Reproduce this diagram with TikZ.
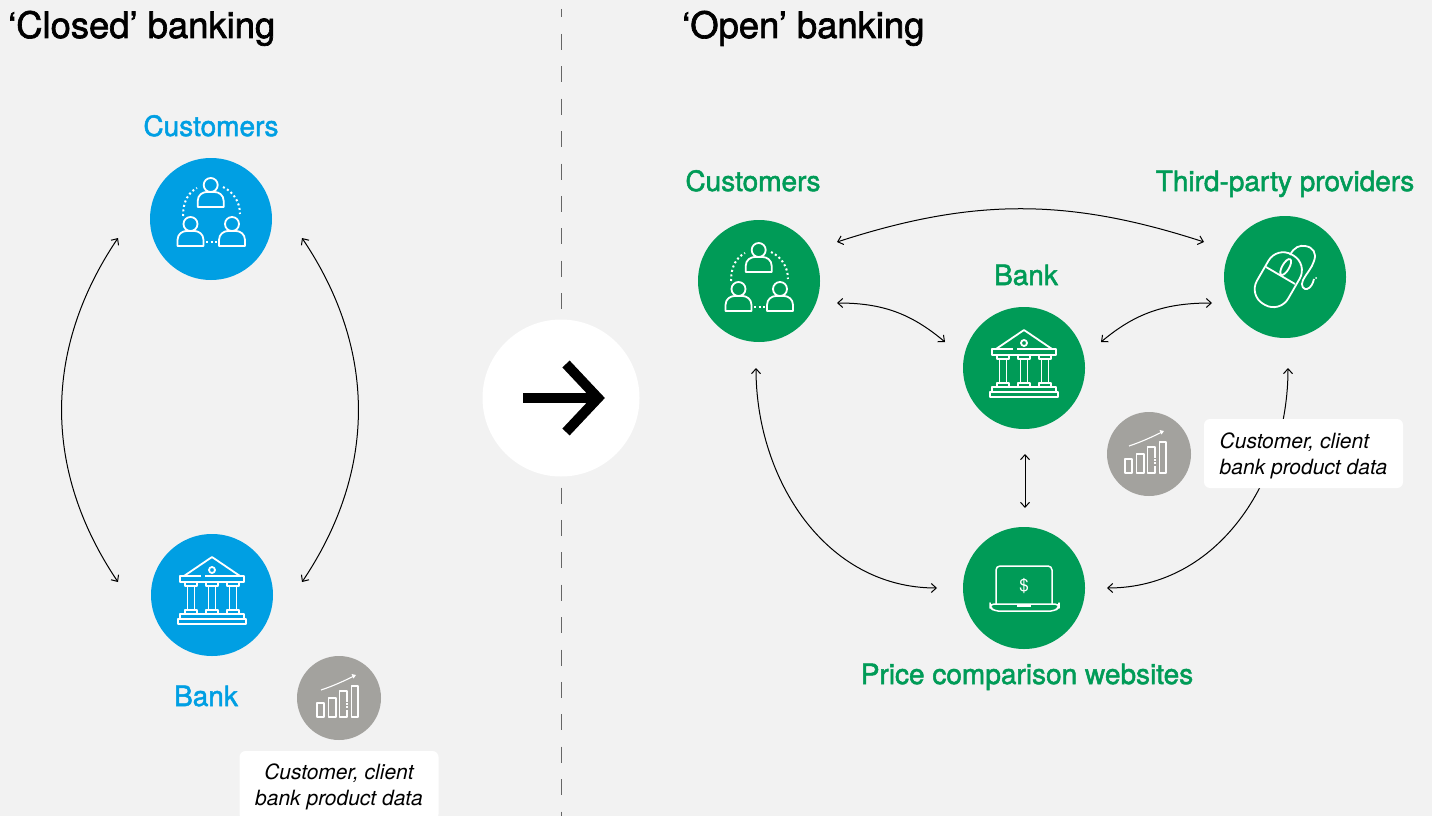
\documentclass[tikz,border=0pt]{standalone}
\usepackage{fontspec}
\usetikzlibrary{arrows.meta}
\setmainfont{TeX Gyre Heros}
\newfontfamily\medfont[FakeBold=1.8]{TeX Gyre Heros}
\definecolor{bgcol}{HTML}{F2F2F2}
\definecolor{bluecol}{HTML}{009FE3}
\definecolor{greencol}{HTML}{009B57}
\definecolor{greycol}{HTML}{A3A29E}
\tikzset{
	disc/.style={circle,minimum size=122pt,inner sep=0pt},
	bluedisc/.style={disc,fill=bluecol},
	greendisc/.style={disc,fill=greencol},
	greydisc/.style={circle,minimum size=84pt,inner sep=0pt,fill=greycol},
	heading/.style={anchor=west,inner sep=0pt,text height=24pt,text depth=0pt,font=\medfont\fontsize{36.4}{36.4}\selectfont},
	tag/.style={inner sep=0pt,text height=20pt,text depth=0pt,font=\medfont\fontsize{28}{28}\selectfont},
	datatag/.style={fill=white,rounded corners=6pt,minimum width=199pt,minimum height=69pt,inner sep=0pt,align=center,font=\itshape\fontsize{21}{26}\selectfont},
	link/.style={{Straight Barb[length=5pt,width=9pt]}-{Straight Barb[length=5pt,width=9pt]},line width=1pt,black},
	iconline/.style={draw=white,line width=1.8pt,line join=round},
	peopleicon/.pic={
		\foreach \hx/\hy in {-0.3/-34,-20.5/5,21/5}{
			\draw[iconline,shift={(\hx,\hy)}] (0,0) circle (7)
				(-13,22) -- (-13,16) .. controls (-13,10) and (-8,7) .. (-4,7) -- (4,7) .. controls (8,7) and (13,10) .. (13,16) -- (13,22) -- cycle;
		}
		\draw[draw=white,line width=2pt,dash pattern=on 2pt off 2.6pt] (-28,-3) .. controls (-28,-18) and (-22,-27) .. (-14,-31);
		\draw[draw=white,line width=2pt,dash pattern=on 2pt off 2.6pt] (12,-32) .. controls (21,-28) and (29,-18) .. (29,-5);
		\draw[draw=white,line width=2pt,dash pattern=on 2pt off 2.6pt] (-5,23) -- (6,23);
	},
	bankicon/.pic={
		\draw[iconline] (-28,-19) -- (0,-38) -- (28,-19);
		\draw[iconline] (0,-25) circle (3);
		\draw[iconline] (-11,-19) -- (-32,-19) -- (-32,-13) -- (32,-13) -- (32,-19) -- (-7,-19);
		\foreach \cx in {-21,0,21}{
			\draw[iconline,shift={(\cx,0)}] (-6,-13) -- (-6,-9) -- (6,-9) -- (6,-13)
				(-3.5,-9) -- (-3.5,15) (3.5,-9) -- (3.5,15)
				(-6,19) -- (-6,15) -- (6,15) -- (6,19);
		}
		\draw[iconline] (-32,24) -- (-32,19) -- (32,19) -- (32,24);
		\draw[iconline] (-34,24) rectangle (34,29);
	},
	mouseicon/.pic={
		\draw[iconline,rounded corners=17pt,shift={(-6.7,2.7)},rotate=-30] (-18,-28.5) rectangle (18,28.5);
		\draw[iconline] (-19,-10) -- (10,7);
		\draw[iconline,shift={(0.7,-10)},rotate=-30] (0,0) ellipse (3.5 and 9);
		\draw[iconline] (5,-22) .. controls (9,-30) and (15,-32) .. (20,-31) .. controls (28,-30) and (32,-24) .. (29,-16) .. controls (27,-9) and (21,-3) .. (18,3) .. controls (15,9) and (19,13) .. (22,12) .. controls (26,11) and (28,6) .. (29,2);
		\fill[white] (31,1) circle (1);
	},
	laptopicon/.pic={
		\draw[iconline,line width=1.5pt] (-28,16) -- (-28,-18) [rounded corners=4pt] -- (-28,-22) -- (28,-22) -- (28,16);
		\draw[iconline,line width=1.5pt,rounded corners=4pt] (-34,16) -- (35,16) -- (35,19) -- (31,23) -- (-30,23) -- (-34,19) -- cycle;
		\draw[iconline,line width=1.5pt] (-7,18) -- (7,18);
		\node[white,inner sep=0pt,font=\fontsize{17}{17}\selectfont] at (0,-2) {\$};
	},
	charticon/.pic={
		\draw[iconline,line width=1.1pt] (-24,5) rectangle (-17,19);
		\draw[iconline,line width=1.1pt] (-12.3,0) rectangle (-5,19);
		\draw[iconline,line width=1.1pt] (6,4) -- (6,-7) -- (-1.3,-7) -- (-1.3,19) -- (6,19) -- (6,12);
		\draw[draw=white,line width=1.1pt,dash pattern=on 1.5pt off 1.5pt] (6,5) -- (6,11);
		\draw[iconline,line width=1.1pt] (10.3,-12) rectangle (17,19);
		\draw[iconline,line width=1.1pt] (-20,-8) .. controls (-8,-12) and (3,-17) .. (13,-22);
		\fill[white] (15,-23) -- (10.5,-24) -- (12.5,-19.5) -- cycle;
	}
}

\begin{document}
\begin{tikzpicture}[x=1pt,y=-1pt]
	\clip (0,0) rectangle (1432,816);
	\fill[bgcol] (0,0) rectangle (1432,816);

	% divider and big arrow
	\coordinate (divtop) at (561,9);
	\coordinate (divend) at (561,816);
	\draw[black!60,line width=1pt,dash pattern=on 16pt off 16.4pt,dash phase=7.5pt] (divtop) -- (divend);
	\node[circle,fill=white,minimum size=157pt,inner sep=0pt] (turn) at (561,398) {};
	\coordinate (shaftstart) at (523,398);
	\coordinate (shaftend) at (595,398);
	\draw[black,line width=10pt] (shaftstart) -- (shaftend);
	\draw[black,line width=10pt,line join=miter] (566,364) -- (598,398) -- (566,432);

	\node[heading] (closedhead) at (8,26) {‘Closed’ banking};
	\node[heading] (openhead) at (682,26) {‘Open’ banking};

	% closed side
	\node[bluedisc] (lcust) at (211,219) {};
	\node[bluedisc] (lbank) at (212,595) {};
	\pic at (lcust) {peopleicon};
	\pic at (lbank) {bankicon};
	\node[tag,bluecol] (lcustname) at (211,126) {Customers};
	\node[tag,bluecol] (lbankname) at (206,696) {Bank};
	\node[greydisc] (lchart) at (339,698) {};
	\pic[xshift=2pt] at (lchart) {charticon};
	\node[datatag] (ldata) at (339,785.5) {\rule{0pt}{18pt}Customer, client\\bank product data};

	\coordinate (lcust-w) at (118,238);
	\coordinate (lbank-w) at (118,582);
	\coordinate (lcust-e) at (302,238);
	\coordinate (lbank-e) at (302,582);
	\path[link]
	(lcust-w) edge [bend right=34] (lbank-w)
	(lcust-e) edge [bend left=34] (lbank-e);

	% open side
	\node[greendisc] (rcust) at (759,281) {};
	\node[greendisc] (rbank) at (1024,368) {};
	\node[greendisc] (rthird) at (1285,277) {};
	\node[greendisc] (rprice) at (1024,588) {};
	\pic[yshift=-3pt] at (rcust) {peopleicon};
	\pic at (rbank) {bankicon};
	\pic at (rthird) {mouseicon};
	\pic at (rprice) {laptopicon};
	\node[tag,greencol] (rcustname) at (753,181) {Customers};
	\node[tag,greencol] (rthirdname) at (1285,181) {Third-party providers};
	\node[tag,greencol] (rbankname) at (1026,275) {Bank};
	\node[tag,greencol] (rpricename) at (1027,674) {Price comparison websites};

	\coordinate (rcust-t) at (837,242);
	\coordinate (rthird-t) at (1204,242);
	\coordinate (rcust-m) at (837,303);
	\coordinate (rbank-l) at (945,342);
	\coordinate (rthird-m) at (1212,303);
	\coordinate (rbank-r) at (1101,342);
	\coordinate (rbank-b) at (1025,454);
	\coordinate (rprice-t) at (1025,508);
	\coordinate (rcust-b) at (756,368);
	\coordinate (rprice-l) at (937,588);
	\coordinate (rthird-b) at (1288,368);
	\coordinate (rprice-r) at (1107,588);
	\path[link]
	(rcust-t) edge [bend left=18] (rthird-t)
	(rcust-m) edge [out=0,in=140] (rbank-l)
	(rthird-m) edge [out=180,in=40] (rbank-r)
	(rbank-b) edge (rprice-t)
	(rcust-b) edge [out=-90,in=180] (rprice-l)
	(rthird-b) edge [out=-90,in=0] (rprice-r);

	\node[greydisc] (rchart) at (1149,454) {};
	\pic at (rchart) {charticon};
	\node[datatag,align=left] (rdata) at (1303.5,453.5) {\rule{0pt}{20pt}Customer, client\\bank product data};
\end{tikzpicture}
\end{document}
